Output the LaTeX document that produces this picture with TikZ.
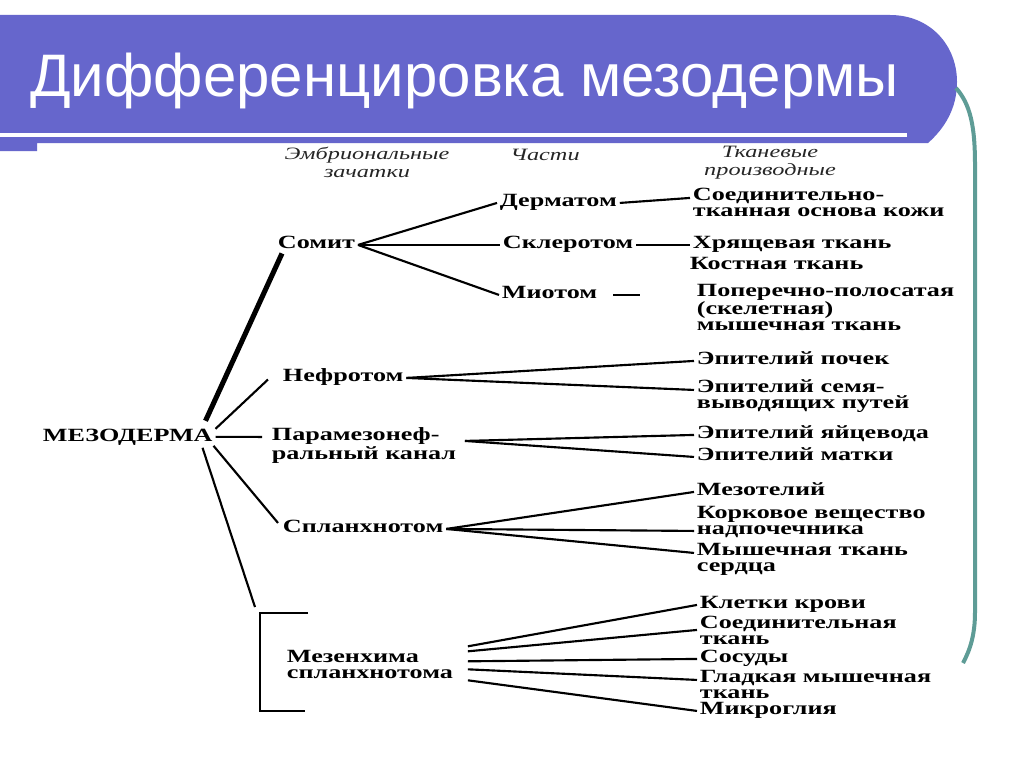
\documentclass[tikz,border=0pt]{standalone}
\usepackage{fontspec}
\setmainfont{Liberation Serif}
\newfontfamily\titlefont{Liberation Sans}
\newfontfamily\scanfont{Liberation Serif}[FakeStretch=1.4]
\usetikzlibrary{calc}
\definecolor{slideblue}{HTML}{6666CC}
\definecolor{slideteal}{HTML}{5E9C96}

\begin{document}
\begin{tikzpicture}[
  x=0.75pt, y=-0.75pt,
  lbl/.style={font={\scanfont\bfseries\fontsize{14}{11.5}\selectfont}, align=left, anchor=base west, inner xsep=2pt, inner ysep=0pt},
  hdr/.style={font={\scanfont\itshape\fontsize{13}{12.8}\selectfont}, align=center, anchor=base, text=black!85, inner sep=0pt},
  link/.style={line width=1.6pt},
  trunk/.style={line width=3.8pt}
]
  \fill[white] (0,0) rectangle (1024,767);
  \useasboundingbox (0,0) rectangle (1024,767);

  % title bar
  \fill[slideblue] (0,15) -- (890,15) .. controls (930,15) and (957,45) .. (957,82)
    .. controls (957,108) and (945,128) .. (928,143) -- (37,143) -- (37,151) -- (0,151) -- cycle;
  \draw[white, line width=3pt] (0,135) -- (907,135);
  \node[anchor=base west, text=white, inner sep=0pt, font={\titlefont\fontsize{45}{50}\selectfont}] (title) at (30,97) {Дифференцировка мезодермы};
  \draw[slideteal, line width=3pt] (956,88) .. controls (970,104) and (975,125) .. (975,165)
    -- (975,612) .. controls (975,635) and (970,650) .. (963,663);

  % column heads (placed by their last line)
  \node[hdr] (hEmb) at (367,177) {Эмбриональные\\зачатки};
  \node[hdr] (hPart) at (545,160) {Части};
  \node[hdr] (hTkan) at (770,175) {Тканевые\\производные};

  % germ layer and rudiments
  \node[lbl] (mezo) at (40,441) {МЕЗОДЕРМА};
  \node[lbl] (somit) at (275,248) {Сомит};
  \node[lbl] (nefr) at (280,381) {Нефротом};
  \node[lbl] (param) at (269,459) {Парамезонеф-\\ральный канал};
  \node[lbl] (splanh) at (280,532) {Спланхнотом};
  \node[lbl] (mezen) at (284,678) {Мезенхима\\спланхнотома};
  \coordinate (brtop) at (260,613);
  \coordinate (brbot) at (260,711);

  % parts of the somite
  \node[lbl] (derm) at (497,206) {Дерматом};
  \node[lbl] (skler) at (500,248) {Склеротом};
  \node[lbl] (miot) at (499,298) {Миотом};

  % tissue derivatives
  \node[lbl] (conn1) at (690,216) {Соединительно-\\тканная основа кожи};
  \node[lbl] (hrya) at (690,248) {Хрящевая ткань};
  \node[lbl] (kost) at (687,269) {Костная ткань};
  \node[lbl] (popere) at (694,330) {Поперечно-полосатая\\(скелетная)\\мышечная ткань};
  \node[lbl] (epPoch) at (694,364) {Эпителий почек};
  \node[lbl] (epSem) at (694,408) {Эпителий семя-\\выводящих путей};
  \node[lbl] (epYaic) at (694,438) {Эпителий яйцевода};
  \node[lbl] (epMat) at (694,460) {Эпителий матки};
  \node[lbl] (mezot) at (694,495) {Мезотелий};
  \node[lbl] (kork) at (694,534) {Корковое вещество\\надпочечника};
  \node[lbl] (mysh) at (694,571) {Мышечная ткань\\сердца};
  \node[lbl] (klet) at (697,608) {Клетки крови};
  \node[lbl] (soed) at (697,644) {Соединительная\\ткань};
  \node[lbl] (sos) at (697,662) {Сосуды};
  \node[lbl] (glad) at (697,698) {Гладкая мышечная\\ткань};
  \node[lbl] (mikro) at (697,714) {Микроглия};

  % mesoderm fan
  \draw[trunk] ($(mezo.east)+(-10,-16)$) -- ($(somit.south west)+(7,5)$);
  \draw[link] ($(mezo.east)+(0,-8)$) -- ($(nefr.west)+(-12,3)$);
  \draw[link] (mezo.east) -- ($(param.mid west)+(-7,-19)$);
  \draw[link] ($(mezo.east)+(-2,9)$) -- ($(splanh.mid west)+(-2,-6)$);
  \draw[link] ($(mezo.east)+(-13,11)$) -- ($(brtop)+(-5,-6)$);
  \draw[link] ($(brtop)+(48,0)$) -- (brtop) -- (brbot) -- ($(brbot)+(45,0)$);

  % somite
  \draw[link] (somit.mid east) -- (derm.mid west);
  \draw[link] (somit.mid east) -- (skler.mid west);
  \draw[link] (somit.mid east) -- (miot.mid west);
  \draw[link] (derm.mid east) -- ($(conn1.mid west)+(0,-15)$);
  \draw[link] (skler.mid east) -- (hrya.mid west);
  \draw[link] ($(miot.mid east)+(13,0)$) -- ++(27,0);

  % other rudiments
  \draw[link] (nefr.mid east) -- (epPoch.mid west);
  \draw[link] (nefr.mid east) -- ($(epSem.mid west)+(0,-15)$);
  \draw[link] ($(param.mid east)+(6,-15)$) -- (epYaic.mid west);
  \draw[link] ($(param.mid east)+(6,-15)$) -- (epMat.mid west);
  \draw[link] (splanh.mid east) -- (mezot.mid west);
  \draw[link] (splanh.mid east) -- (kork.mid west);
  \draw[link] (splanh.mid east) -- ($(mysh.mid west)+(0,-15)$);

  % mesenchyme
  \draw[link] ($(mezen.east)+(12,-18)$) -- (klet.mid west);
  \draw[link] ($(mezen.east)+(12,-13)$) -- ($(soed.mid west)+(0,-11)$);
  \draw[link] ($(mezen.east)+(12,-3)$) -- (sos.mid west);
  \draw[link] ($(mezen.east)+(12,5)$) -- ($(glad.mid west)+(0,-15)$);
  \draw[link] ($(mezen.east)+(12,16)$) -- (mikro.mid west);
\end{tikzpicture}
\end{document}
